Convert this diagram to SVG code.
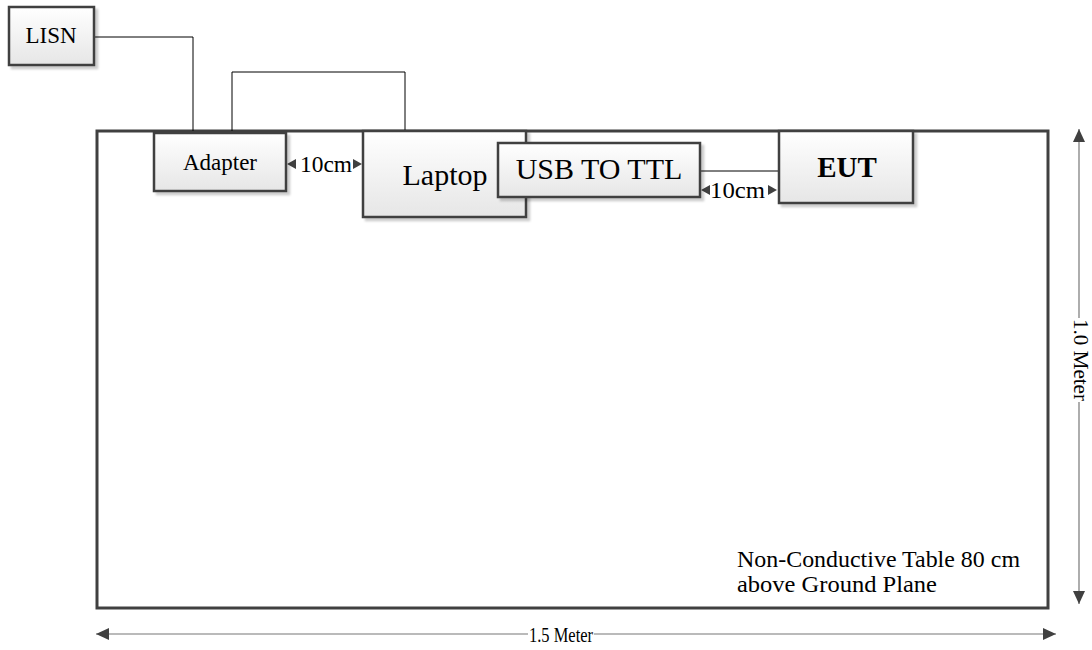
<svg xmlns="http://www.w3.org/2000/svg" width="1092" height="650" viewBox="0 0 1092 650">
<defs>
<linearGradient id="g" x1="0" y1="0" x2="0" y2="1">
<stop offset="0" stop-color="#ffffff"/>
<stop offset="1" stop-color="#e6e6e6"/>
</linearGradient>
<filter id="sh" x="-10%" y="-10%" width="130%" height="130%">
<feGaussianBlur in="SourceAlpha" stdDeviation="1.2"/>
<feOffset dx="3" dy="3" result="o"/>
<feComponentTransfer><feFuncA type="linear" slope="0.2"/></feComponentTransfer>
<feMerge><feMergeNode/><feMergeNode in="SourceGraphic"/></feMerge>
</filter>
<marker id="ah" markerWidth="14" markerHeight="12" refX="13" refY="6" orient="auto-start-reverse" markerUnits="userSpaceOnUse">
<path d="M0,0 L13,6 L0,12 z" fill="#404040"/>
</marker>
<marker id="as" markerWidth="10" markerHeight="10" refX="9" refY="5" orient="auto-start-reverse" markerUnits="userSpaceOnUse">
<path d="M0,0 L9,5 L0,10 z" fill="#404040"/>
</marker>
</defs>
<style>
.box{fill:url(#g);stroke:#404040;stroke-width:2.5;filter:url(#sh)}
.t{font-family:"Liberation Serif","Times New Roman",serif;fill:#000}
.wire{fill:none;stroke:#000;stroke-width:1}
.dim{stroke:#777;stroke-width:1.2;fill:none}
</style>
<g id="table">
<rect x="97" y="131" width="951" height="477" fill="#fff" stroke="#404040" stroke-width="3"/>
<text class="t" x="737" y="567" font-size="23" textLength="283" lengthAdjust="spacingAndGlyphs">Non-Conductive Table 80 cm</text>
<text class="t" x="737" y="592" font-size="23" textLength="200" lengthAdjust="spacingAndGlyphs">above Ground Plane</text>
</g>
<g id="connectors">
<polyline class="wire" points="94,37 193,37 193,131"/>
<polyline class="wire" points="232,131 232,72 405,72 405,131"/>
<line class="wire" x1="700" y1="171" x2="779" y2="171"/>
<line x1="287" y1="164" x2="362" y2="164" stroke="none" marker-start="url(#as)" marker-end="url(#as)"/>
<line x1="701" y1="190" x2="777" y2="190" stroke="none" marker-start="url(#as)" marker-end="url(#as)"/>
<line class="dim" x1="1079" y1="129" x2="1079" y2="604" marker-start="url(#ah)" marker-end="url(#ah)"/>
<line class="dim" x1="96" y1="634" x2="1056" y2="634" marker-start="url(#ah)" marker-end="url(#ah)"/>
<rect x="528" y="624" width="66" height="20" fill="#fff"/>
<text class="t" x="529" y="642" font-size="22" textLength="64" lengthAdjust="spacingAndGlyphs">1.5 Meter</text>
<rect x="1072" y="318" width="18" height="84" fill="#fff"/>
<text class="t" x="1074" y="319" font-size="20" textLength="82" lengthAdjust="spacingAndGlyphs" transform="rotate(90 1074 319)">1.0 Meter</text>
<text class="t" x="300" y="172" font-size="23" textLength="52" lengthAdjust="spacingAndGlyphs">10cm</text>
<text class="t" x="710" y="198" font-size="23" textLength="55" lengthAdjust="spacingAndGlyphs">10cm</text>
</g>
<g id="lisn">
<rect class="box" x="9" y="7" width="85" height="58"/>
<text class="t" x="51" y="43" font-size="23" text-anchor="middle">LISN</text>
</g>
<g id="adapter">
<rect class="box" x="154" y="133" width="132" height="58"/>
<text class="t" x="220" y="170" font-size="23" text-anchor="middle">Adapter</text>
</g>
<g id="laptop">
<rect class="box" x="363" y="131" width="163" height="86"/>
<text class="t" x="445" y="185" font-size="30" text-anchor="middle">Laptop</text>
</g>
<g id="usb">
<rect class="box" x="498" y="143" width="202" height="54"/>
<text class="t" x="599" y="179" font-size="30" text-anchor="middle">USB TO TTL</text>
</g>
<g id="eut">
<rect class="box" x="779" y="131" width="134" height="72"/>
<text class="t" x="847" y="177" font-size="29" font-weight="bold" text-anchor="middle">EUT</text>
</g>
</svg>
